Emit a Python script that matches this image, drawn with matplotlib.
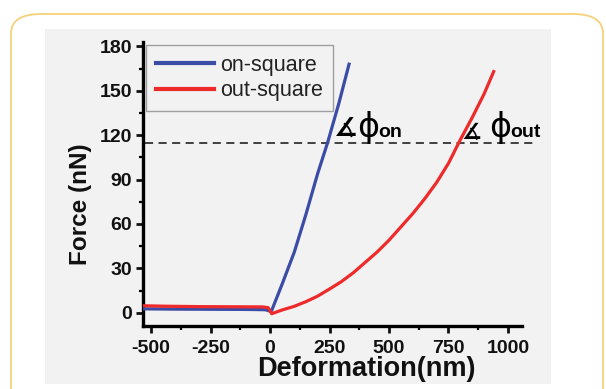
import matplotlib
matplotlib.use("Agg")
import matplotlib.pyplot as plt
from matplotlib.patches import FancyBboxPatch, Rectangle
from matplotlib.ticker import MultipleLocator

# ---- data ----
on_x = [-534, -400, -250, -100, -20, 3, 7, 50, 102, 150, 200, 242, 290, 332]
on_y = [2.6, 2.4, 2.3, 2.2, 2.0, 0.9, 1.5, 19, 41, 66, 94, 115, 142, 168]

out_x = [-534, -450, -300, -150, -30, -8, 7, 50, 100, 150, 200, 250, 300, 350, 400,
         450, 500, 550, 600, 650, 700, 750, 800, 850, 900, 940]
out_y = [4.7, 4.4, 4.1, 4.0, 3.9, 3.4, -0.7, 1.8, 4.2, 7.4, 11.2, 16, 21, 27, 34,
         41, 49, 58, 67, 77, 88, 101, 117, 132, 148, 163]

threshold = 115
thr_x = [-525, 1122]

x_ticks = [-500, -250, 0, 250, 500, 750, 1000]
y_ticks = [0, 30, 60, 90, 120, 150, 180]

plt.rcParams['font.family'] = ['Liberation Sans', 'DejaVu Sans']
plt.rcParams['axes.unicode_minus'] = False

fig = plt.figure(figsize=(6.06, 3.89), dpi=100)
fig.patch.set_facecolor('white')

W, H = 606.0, 389.0
# rounded card border
card = FancyBboxPatch((11 / W, -20 / H), 592 / W, 395 / H,
                      boxstyle="round,pad=0,rounding_size=0.05",
                      transform=fig.transFigure, facecolor='white',
                      edgecolor='#f3d27a', linewidth=1.3, zorder=-3)
fig.patches.append(card)
# gray image background
fig.patches.append(Rectangle((45 / W, 1 - 384 / H), (551 - 45) / W, (384 - 29) / H,
                             transform=fig.transFigure, facecolor='#f2f2f2',
                             edgecolor='none', zorder=-2))

ax = fig.add_axes([143 / W, 1 - 326 / H, (522 - 143) / W, (326 - 42) / H])
ax.patch.set_alpha(0)

ax.plot(on_x, on_y, color='#3a4ca6', lw=2.3, label='on-square', zorder=3)
ax.plot(out_x, out_y, color='#ee2a2a', lw=2.3, label='out-square', zorder=3)
ax.plot(thr_x, [threshold, threshold], color='#333333', lw=1.3,
        ls=(0, (4.5, 3)), clip_on=False, zorder=2)

ax.set_xlim(-534, 1059)
ax.set_ylim(-9, 183)
ax.set_xticks(x_ticks)
ax.set_yticks(y_ticks)
ax.xaxis.set_minor_locator(MultipleLocator(125))
ax.yaxis.set_minor_locator(MultipleLocator(15))
for s in ['top', 'right']:
    ax.spines[s].set_visible(False)
for s in ['left', 'bottom']:
    ax.spines[s].set_linewidth(2.4)
ax.tick_params(which='major', direction='out', length=5, width=2, labelsize=14,
               colors='#111111')
ax.tick_params(axis='x', which='major', pad=5)
ax.tick_params(axis='y', which='major', pad=3)
ax.tick_params(which='minor', direction='out', length=3, width=1.6)
for lab in ax.get_xticklabels() + ax.get_yticklabels():
    lab.set_fontweight('bold')

ax.set_xlabel('Deformation(nm)', fontsize=19.5, fontweight='bold', color='#111111')
ax.xaxis.set_label_coords(0.59, -0.107)
ax.set_ylabel('Force (nN)', fontsize=17.5, fontweight='bold', color='#111111')
ax.yaxis.set_label_coords(-0.135, 0.428)

leg = ax.legend(loc='upper left', bbox_to_anchor=(0.0, 1.0), fontsize=15.5,
                frameon=True, fancybox=False, handlelength=2.7,
                handletextpad=0.3, borderpad=0.45, labelspacing=0.2,
                borderaxespad=0.15)
leg.get_frame().set_edgecolor('#8a8a8a')
leg.get_frame().set_facecolor('#f2f2f2')
leg.get_frame().set_linewidth(1.0)
for t in leg.get_texts():
    t.set_color('#222222')
for l in leg.get_lines():
    l.set_linewidth(3)

# angle annotations
ax.text(270, 115, '∡', fontsize=19, fontweight='bold', family=['DejaVu Sans'],
        ha='left', va='bottom', zorder=4)
ax.text(364, 114, 'ϕ', fontsize=24, family=['DejaVu Sans'], ha='left', va='bottom', zorder=4)
ax.text(455, 118.5, 'on', fontsize=14, fontweight='bold', ha='left', va='baseline', zorder=4)
ax.text(805, 115, '∡', fontsize=16, fontweight='bold', family=['DejaVu Sans'],
        ha='left', va='bottom', zorder=4)
ax.text(920, 114, 'ϕ', fontsize=24, family=['DejaVu Sans'], ha='left', va='bottom', zorder=4)
ax.text(1008, 118.5, 'out', fontsize=14, fontweight='bold', ha='left', va='baseline',
        zorder=4, clip_on=False)

fig.savefig('out.png', dpi=100)
